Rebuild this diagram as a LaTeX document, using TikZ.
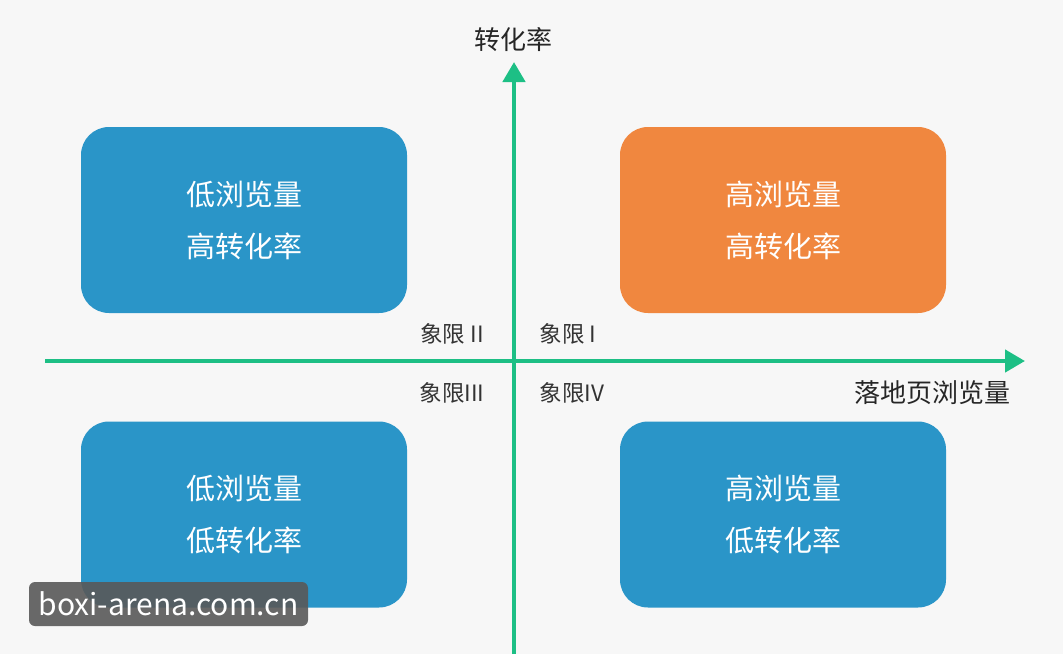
\documentclass[tikz,border=0pt]{standalone}
\usepackage{fontspec}
\setmainfont{Noto Sans CJK SC}
\usetikzlibrary{arrows.meta}
\definecolor{axisg}{HTML}{1DBF85}
\definecolor{bblue}{HTML}{2A95C8}
\definecolor{borange}{HTML}{F0873F}
\definecolor{bg}{HTML}{F7F7F7}
\definecolor{lbl}{HTML}{333333}
\tikzset{
 quad/.style={rounded corners=28pt,minimum width=326pt,minimum height=186pt,text=white,font=\fontsize{29}{52}\selectfont,align=center,inner sep=0pt},
 axis/.style={axisg,line width=4.5pt,-{Triangle[length=20pt,width=22pt]}},
 qlbl/.style={text=lbl,font=\fontsize{22.5}{26}\selectfont},
 alabel/.style={text=black!85,font=\fontsize{26}{30}\selectfont}
}
\begin{document}
\begin{tikzpicture}[x=1pt,y=-1pt]
\fill[bg] (0,0) rectangle (1063,654);
\useasboundingbox (0,0) rectangle (1063,654);
\node[quad,fill=bblue] (q2) at (244,220) {低浏览量\\高转化率};
\node[quad,fill=borange] (q1) at (783,220) {高浏览量\\高转化率};
\node[quad,fill=bblue] (q3) at (244,514.5) {低浏览量\\低转化率};
\node[quad,fill=bblue] (q4) at (783,514.5) {高浏览量\\低转化率};
\coordinate (vb) at (514,654);
\coordinate (vt) at (514,62);
\coordinate (hl) at (45,361);
\coordinate (hr) at (1025,361);
\draw[axis] (vb) -- (vt);
\draw[axis] (hl) -- (hr);
\node[alabel] (ty) at (513,40) {转化率};
\node[alabel] (tx) at (932,393) {落地页浏览量};
\node[qlbl] (l2) at (452,334) {象限 II};
\node[qlbl] (l1) at (568,334) {象限 I};
\node[qlbl] (l3) at (452,393) {象限III};
\node[qlbl] (l4) at (572,393) {象限IV};
\node[fill=black!65,opacity=0.9,text opacity=1,text=white,rounded corners=6pt,minimum width=279pt,minimum height=44pt,inner sep=0pt,font=\fontsize{30}{34}\selectfont] (wm) at (168.5,604) {boxi-arena.com.cn};
\end{tikzpicture}
\end{document}
